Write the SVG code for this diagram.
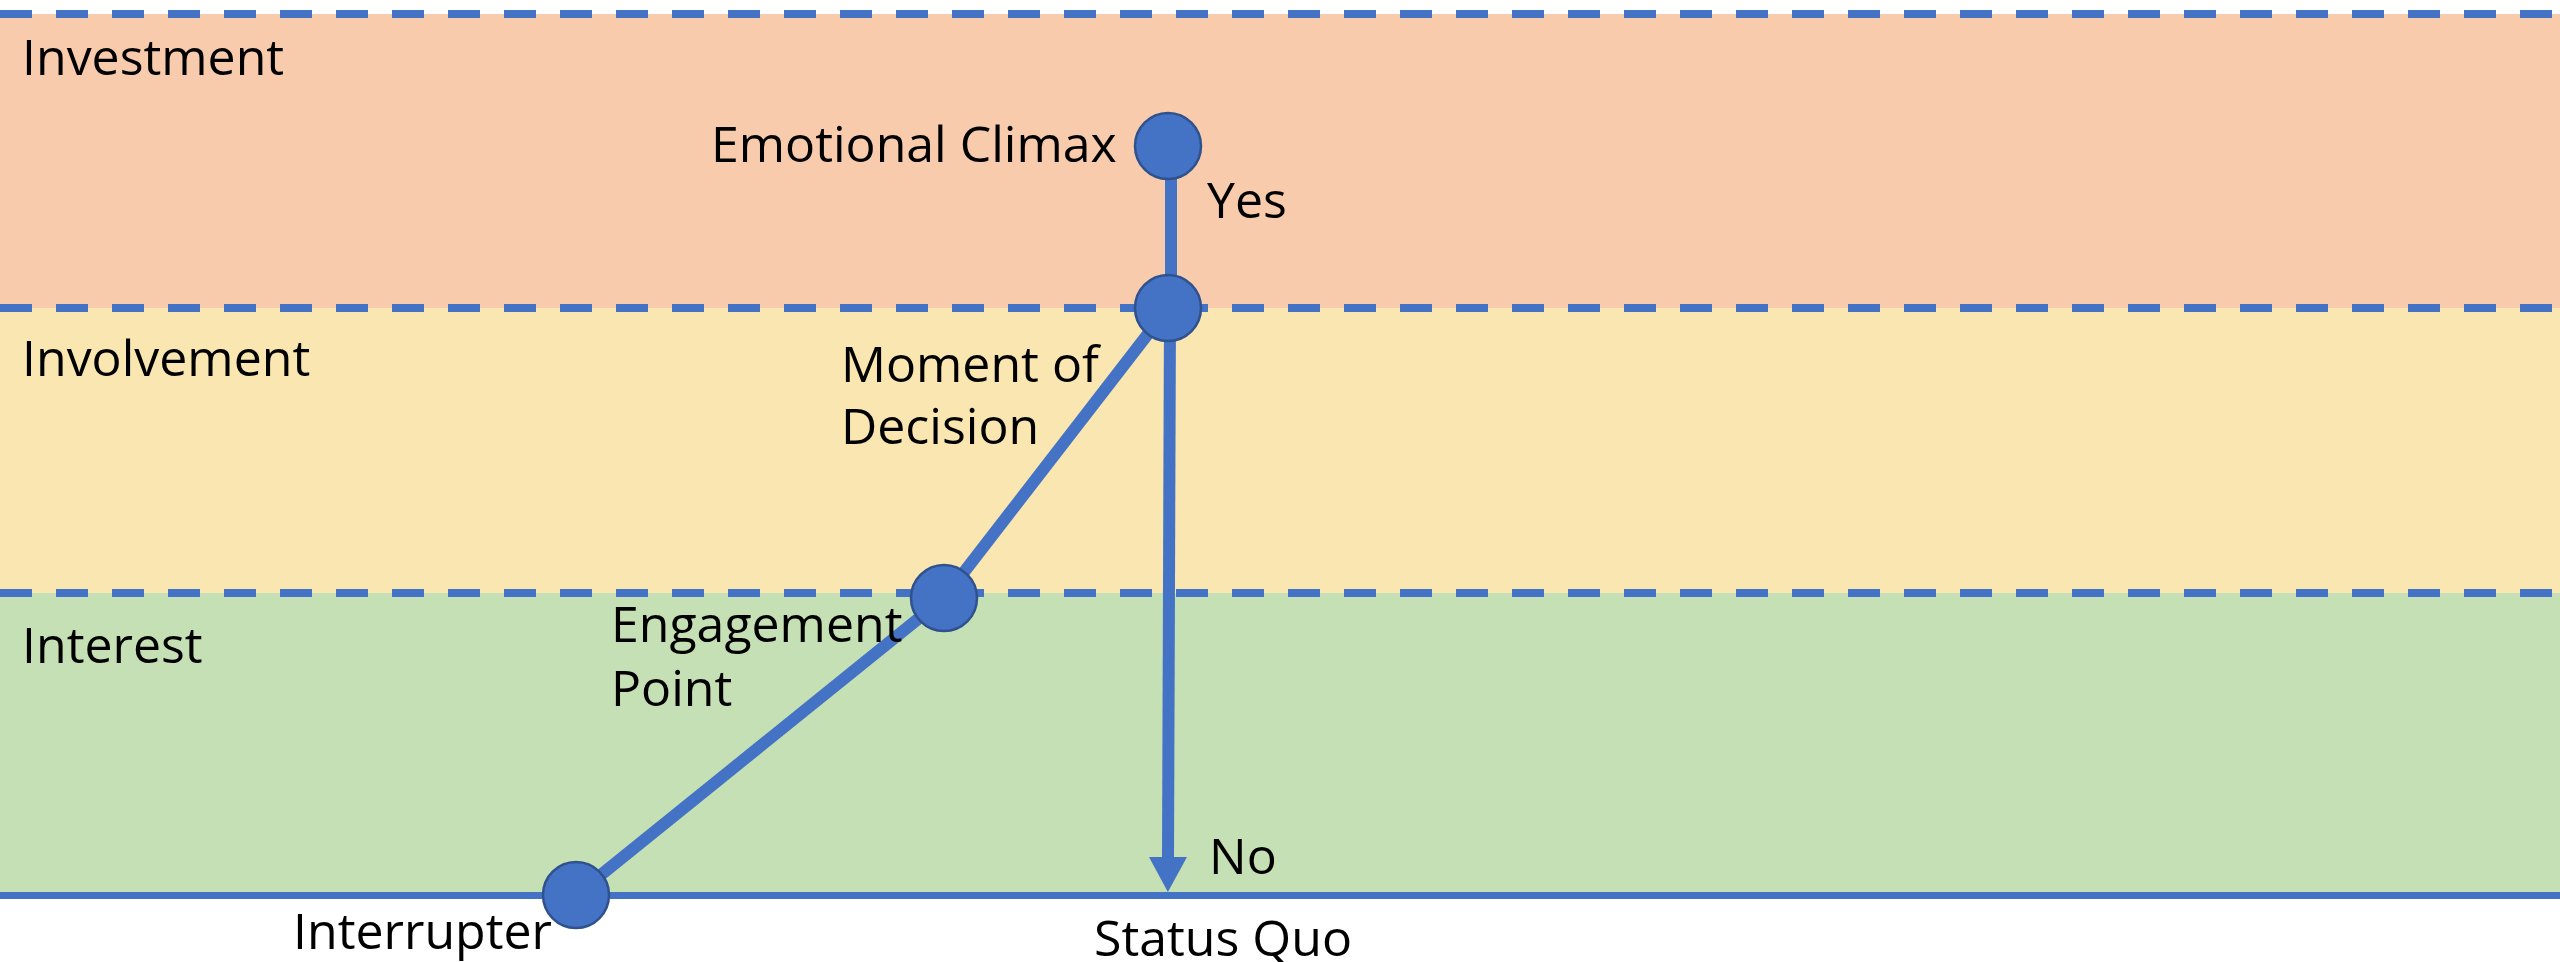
<svg xmlns="http://www.w3.org/2000/svg" width="2560" height="962" viewBox="0 0 2560 962">
  <style>
    .lbl { font-family: "Open Sans", "Noto Sans", "Liberation Sans", sans-serif; font-size: 50px; fill: #000000; }
    .band-edge { stroke: #4472C4; stroke-width: 8; stroke-dasharray: 32 24; fill: none; }
    .base { stroke: #4472C4; stroke-width: 7; fill: none; }
    .link { stroke: #4472C4; stroke-width: 12; fill: none; }
    .dot { fill: #4472C4; stroke: #2F528F; stroke-width: 2.5; }
  </style>
  <defs>
    <marker id="arrow" markerUnits="userSpaceOnUse" markerWidth="36" markerHeight="38" refX="0" refY="19" orient="auto" overflow="visible">
      <path d="M0,0 L35,19 L0,38 Z" fill="#4472C4"/>
    </marker>
  </defs>

  <rect width="2560" height="962" fill="#FFFFFF"/>

  <!-- bands -->
  <g id="bands">
    <rect x="0" y="14" width="2560" height="294" fill="#F8CBAD"/>
    <rect x="0" y="308" width="2560" height="285" fill="#F9E6B0"/>
    <rect x="0" y="593" width="2560" height="302" fill="#C5E0B4"/>
    <line class="band-edge" x1="0" y1="14" x2="2560" y2="14"/>
    <line class="band-edge" x1="0" y1="308" x2="2560" y2="308"/>
    <line class="band-edge" x1="0" y1="593" x2="2560" y2="593"/>
    <line class="base" x1="0" y1="895.5" x2="2560" y2="895.5"/>
    <text class="lbl" x="22" y="75">Investment</text>
    <text class="lbl" x="22" y="376">Involvement</text>
    <text class="lbl" x="22" y="663">Interest</text>
  </g>

  <!-- connectors -->
  <g id="connectors">
    <line class="link" x1="576" y1="895" x2="944" y2="598"/>
    <line class="link" x1="944" y1="598" x2="1168" y2="308"/>
    <line class="link" x1="1171" y1="146" x2="1171" y2="308"/>
    <line class="link" x1="1170" y1="308" x2="1168" y2="857" marker-end="url(#arrow)"/>
    <text class="lbl" x="1207" y="218">Yes</text>
    <text class="lbl" x="1209" y="874">No</text>
  </g>

  <!-- nodes -->
  <g id="node-emotional-climax">
    <circle class="dot" cx="1168" cy="146" r="33"/>
    <text class="lbl" x="711" y="162">Emotional Climax</text>
  </g>
  <g id="node-moment-of-decision">
    <circle class="dot" cx="1168" cy="308" r="33"/>
    <text class="lbl" x="841" y="382">Moment of</text>
    <text class="lbl" x="841" y="444">Decision</text>
  </g>
  <g id="node-engagement-point">
    <circle class="dot" cx="944" cy="598" r="33"/>
    <text class="lbl" x="611" y="642">Engagement</text>
    <text class="lbl" x="611" y="706">Point</text>
  </g>
  <g id="node-interrupter">
    <circle class="dot" cx="576" cy="895" r="33"/>
    <text class="lbl" x="293" y="949">Interrupter</text>
  </g>
  <g id="node-status-quo">
    <text class="lbl" x="1094" y="956">Status Quo</text>
  </g>
</svg>
